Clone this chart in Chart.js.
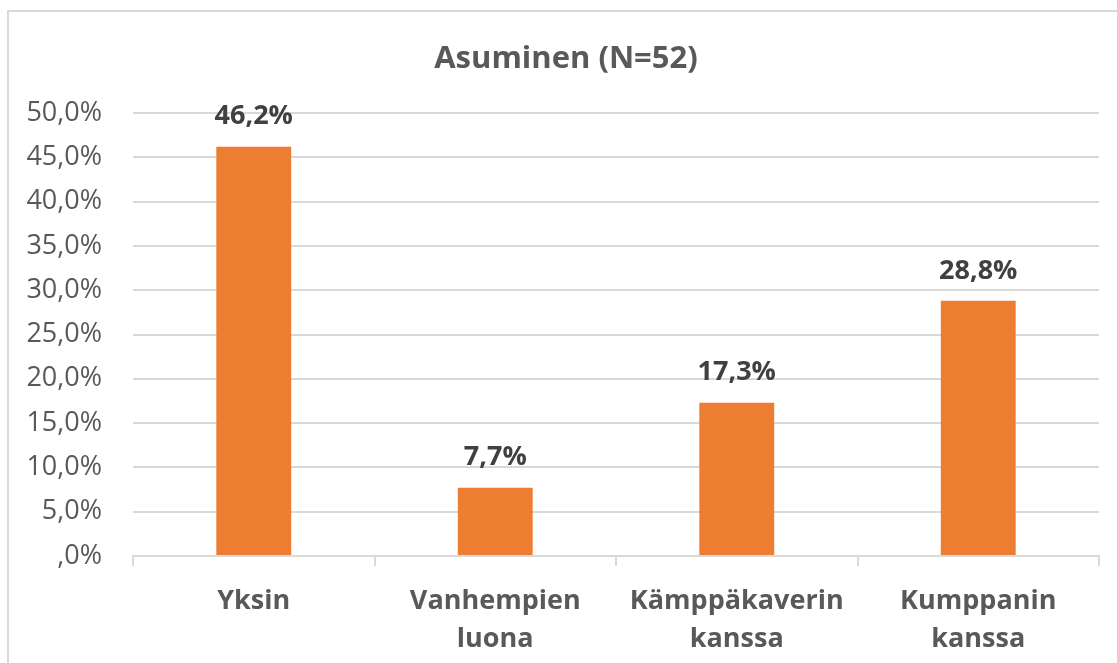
<!DOCTYPE html>
<html>
<head>
<meta charset="utf-8">
<script src="https://cdn.jsdelivr.net/npm/chart.js@4/dist/chart.umd.min.js"></script>
<style>
html,body{margin:0;padding:0;background:#fff;}
#wrap{width:1117px;height:663px;position:relative;}
</style>
</head>
<body>
<div id="wrap"><canvas id="c" width="1117" height="663"></canvas></div>
<script>
const categories = [["Yksin"], ["Vanhempien", "luona"], ["Kämppäkaverin", "kanssa"], ["Kumppanin", "kanssa"]];
const values = [46.2, 7.7, 17.3, 28.8];
const valueLabels = ["46,2%", "7,7%", "17,3%", "28,8%"];
const yTickLabels = [",0%", "5,0%", "10,0%", "15,0%", "20,0%", "25,0%", "30,0%", "35,0%", "40,0%", "45,0%", "50,0%"];
const titleText = "Asuminen (N=52)";

const FONT = "'Open Sans', sans-serif";

const framePlugin = {
  id: 'frame',
  beforeDraw(chart) {
    const ctx = chart.ctx;
    ctx.save();
    ctx.fillStyle = '#fff';
    ctx.fillRect(0, 0, chart.width, chart.height);
    ctx.strokeStyle = '#d9d9d9';
    ctx.lineWidth = 2;
    ctx.strokeRect(8, 11, chart.width + 20, chart.height + 20);
    ctx.font = "bold 31px " + FONT;
    ctx.fillStyle = '#595959';
    ctx.textAlign = 'center';
    ctx.textBaseline = 'middle';
    ctx.fillText(titleText, 566, 59);
    ctx.restore();
  }
};

const labelPlugin = {
  id: 'valueLabels',
  afterDatasetsDraw(chart) {
    const ctx = chart.ctx;
    const meta = chart.getDatasetMeta(0);
    ctx.save();
    ctx.font = "bold 27px " + FONT;
    ctx.fillStyle = '#404040';
    ctx.textAlign = 'center';
    ctx.textBaseline = 'middle';
    meta.data.forEach((bar, i) => {
      ctx.fillText(valueLabels[i], bar.x, bar.y - 30);
    });
    ctx.restore();
  }
};

new Chart(document.getElementById('c'), {
  type: 'bar',
  data: {
    labels: categories,
    datasets: [{
      data: values,
      backgroundColor: '#ED7D31',
      borderWidth: 0,
      categoryPercentage: 1,
      barPercentage: 0.31
    }]
  },
  options: {
    responsive: false,
    animation: false,
    devicePixelRatio: 1,
    layout: { padding: { left: 0, right: 18, top: 113, bottom: 0 } },
    plugins: {
      legend: { display: false },
      tooltip: { enabled: false },
      title: { display: false }
    },
    scales: {
      x: {
        grid: {
          display: true,
          drawOnChartArea: false,
          drawTicks: true,
          tickLength: 10,
          color: '#d9d9d9',
          lineWidth: 2,
          offset: true
        },
        border: { display: true, color: '#d9d9d9', width: 2 },
        ticks: {
          color: '#595959',
          font: { family: FONT, size: 27, weight: 'bold', lineHeight: 1.38 },
          padding: 17,
          maxRotation: 0,
          autoSkip: false
        },
        afterFit(scale) { scale.height = 107; }
      },
      y: {
        min: 0,
        max: 50,
        grid: { color: '#d9d9d9', lineWidth: 2, drawTicks: false },
        border: { display: false },
        ticks: {
          stepSize: 5,
          color: '#595959',
          font: { family: FONT, size: 27 },
          padding: 31,
          callback(value) { return yTickLabels[Math.round(value / 5)]; }
        },
        afterFit(scale) { scale.width = 133; }
      }
    }
  },
  plugins: [framePlugin, labelPlugin]
});
</script>
</body>
</html>
